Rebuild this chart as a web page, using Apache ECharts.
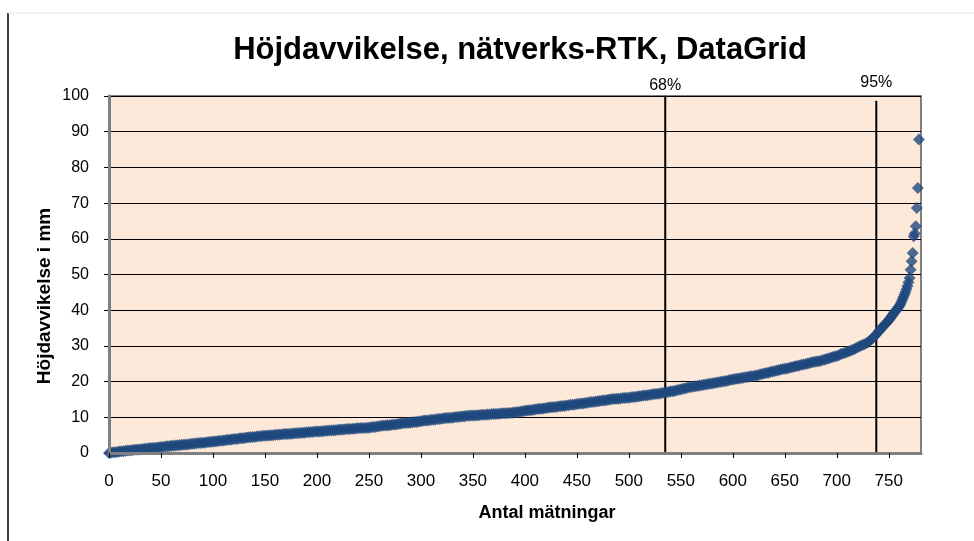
<!DOCTYPE html>
<html lang="sv">
<head>
  <meta charset="utf-8">
  <script src="https://cdn.jsdelivr.net/npm/echarts@6/dist/echarts.min.js"></script>
  <style>
    body { margin: 0; background: #fff; }
    #chart { width: 974px; height: 541px; }
  </style>
</head>
<body>
  <div id="chart"></div>
  <script>
    // mätningsnummer (sorterade efter avvikelse)
    const measNo = [
      0, 2, 4, 6, 8, 10, 12, 14, 16, 18, 20, 22, 24, 26, 28, 30, 32, 34, 36, 38, 40, 42, 44, 46, 48,
      50, 52, 54, 56, 58, 60, 62, 64, 66, 68, 70, 72, 74, 76, 78, 80, 82, 84, 86, 88, 90, 92, 94, 96, 98,
      100, 102, 104, 106, 108, 110, 112, 114, 116, 118, 120, 122, 124, 126, 128, 130, 132, 134, 136, 138, 140, 142, 144, 146, 148,
      150, 152, 154, 156, 158, 160, 162, 164, 166, 168, 170, 172, 174, 176, 178, 180, 182, 184, 186, 188, 190, 192, 194, 196, 198,
      200, 202, 204, 206, 208, 210, 212, 214, 216, 218, 220, 222, 224, 226, 228, 230, 232, 234, 236, 238, 240, 242, 244, 246, 248,
      250, 252, 254, 256, 258, 260, 262, 264, 266, 268, 270, 272, 274, 276, 278, 280, 282, 284, 286, 288, 290, 292, 294, 296, 298,
      300, 302, 304, 306, 308, 310, 312, 314, 316, 318, 320, 322, 324, 326, 328, 330, 332, 334, 336, 338, 340, 342, 344, 346, 348,
      350, 352, 354, 356, 358, 360, 362, 364, 366, 368, 370, 372, 374, 376, 378, 380, 382, 384, 386, 388, 390, 392, 394, 396, 398,
      400, 402, 404, 406, 408, 410, 412, 414, 416, 418, 420, 422, 424, 426, 428, 430, 432, 434, 436, 438, 440, 442, 444, 446, 448,
      450, 452, 454, 456, 458, 460, 462, 464, 466, 468, 470, 472, 474, 476, 478, 480, 482, 484, 486, 488, 490, 492, 494, 496, 498,
      500, 502, 504, 506, 508, 510, 512, 514, 516, 518, 520, 522, 524, 526, 528, 530, 532, 534, 536, 538, 540, 542, 544, 546, 548,
      550, 552, 554, 556, 558, 560, 562, 564, 566, 568, 570, 572, 574, 576, 578, 580, 582, 584, 586, 588, 590, 592, 594, 596, 598,
      600, 602, 604, 606, 608, 610, 612, 614, 616, 618, 620, 622, 624, 626, 628, 630, 632, 634, 636, 638, 640, 642, 644, 646, 648,
      650, 652, 654, 656, 658, 660, 662, 664, 666, 668, 670, 672, 674, 676, 678, 680, 682, 684, 686, 688, 690, 692, 694, 696, 698,
      700, 702, 704, 706, 708, 710, 712, 714, 716, 718, 720, 722, 724, 726, 728, 730, 732, 734, 736, 738, 740,
      741, 742, 743, 744, 745, 746, 747, 748, 749, 750, 751, 752, 753, 754, 755, 756, 757, 758, 759, 760,
      761, 762, 763, 764, 765, 766, 767, 768, 769, 770, 771, 772, 773, 774, 775, 776, 777, 778, 779
    ];
    // höjdavvikelse i mm
    const heightDev = [
      0.0, 0.1, 0.2, 0.2, 0.3, 0.4, 0.5, 0.5, 0.6, 0.7, 0.7, 0.8, 0.9, 0.9, 1.0, 1.0, 1.1, 1.2, 1.2, 1.3, 1.4, 1.4, 1.5, 1.5, 1.6,
      1.7, 1.7, 1.8, 1.9, 1.9, 2.0, 2.0, 2.1, 2.2, 2.2, 2.3, 2.3, 2.4, 2.4, 2.5, 2.6, 2.6, 2.7, 2.8, 2.8, 2.9, 2.9, 3.0, 3.1, 3.1,
      3.2, 3.2, 3.3, 3.4, 3.4, 3.5, 3.6, 3.7, 3.7, 3.8, 3.9, 3.9, 4.0, 4.1, 4.1, 4.2, 4.3, 4.4, 4.4, 4.5, 4.5, 4.6, 4.7, 4.7, 4.8,
      4.8, 4.9, 4.9, 5.0, 5.0, 5.1, 5.1, 5.2, 5.2, 5.3, 5.3, 5.3, 5.4, 5.4, 5.5, 5.5, 5.6, 5.6, 5.7, 5.7, 5.8, 5.8, 5.9, 5.9, 6.0,
      6.0, 6.0, 6.1, 6.1, 6.2, 6.2, 6.3, 6.3, 6.4, 6.4, 6.5, 6.5, 6.6, 6.6, 6.7, 6.7, 6.7, 6.8, 6.8, 6.9, 6.9, 7.0, 7.0, 7.0, 7.1,
      7.1, 7.2, 7.3, 7.3, 7.4, 7.5, 7.6, 7.7, 7.7, 7.8, 7.8, 7.9, 8.0, 8.0, 8.1, 8.2, 8.3, 8.4, 8.4, 8.5, 8.5, 8.6, 8.7, 8.7, 8.8,
      8.9, 9.0, 9.1, 9.1, 9.2, 9.3, 9.3, 9.4, 9.5, 9.5, 9.6, 9.7, 9.8, 9.8, 9.9, 9.9, 10.0, 10.1, 10.1, 10.2, 10.2, 10.3, 10.4, 10.4, 10.5,
      10.5, 10.5, 10.6, 10.6, 10.7, 10.7, 10.7, 10.8, 10.8, 10.9, 10.9, 10.9, 11.0, 11.0, 11.1, 11.1, 11.1, 11.2, 11.2, 11.3, 11.4, 11.4, 11.5, 11.6, 11.7,
      11.8, 11.9, 12.0, 12.0, 12.1, 12.2, 12.3, 12.4, 12.4, 12.5, 12.6, 12.7, 12.8, 12.8, 12.9, 12.9, 13.0, 13.1, 13.2, 13.2, 13.3, 13.4, 13.5, 13.5, 13.6,
      13.7, 13.8, 13.9, 13.9, 14.0, 14.1, 14.2, 14.3, 14.3, 14.4, 14.5, 14.6, 14.7, 14.7, 14.8, 14.9, 15.0, 15.1, 15.1, 15.2, 15.2, 15.3, 15.4, 15.4, 15.5,
      15.5, 15.6, 15.7, 15.7, 15.8, 15.9, 16.0, 16.1, 16.1, 16.2, 16.3, 16.4, 16.5, 16.5, 16.6, 16.7, 16.8, 16.9, 17.0, 17.1, 17.2, 17.3, 17.4, 17.6, 17.7,
      17.8, 18.0, 18.1, 18.3, 18.4, 18.5, 18.6, 18.7, 18.8, 18.9, 19.0, 19.1, 19.2, 19.3, 19.4, 19.5, 19.6, 19.7, 19.8, 19.9, 20.0, 20.1, 20.2, 20.4, 20.5,
      20.6, 20.7, 20.8, 20.9, 21.0, 21.1, 21.2, 21.3, 21.4, 21.5, 21.6, 21.7, 21.8, 22.0, 22.1, 22.3, 22.4, 22.5, 22.7, 22.8, 22.9, 23.1, 23.2, 23.4, 23.5,
      23.6, 23.7, 23.8, 24.0, 24.1, 24.3, 24.4, 24.5, 24.7, 24.8, 24.9, 25.1, 25.2, 25.4, 25.5, 25.6, 25.7, 25.8, 26.0, 26.1, 26.3, 26.5, 26.7, 26.9, 27.0,
      27.2, 27.4, 27.7, 27.9, 28.1, 28.3, 28.5, 28.8, 29.0, 29.3, 29.6, 29.9, 30.2, 30.4, 30.7, 31.0, 31.5, 32.0, 32.6, 33.2, 33.9,
      34.3, 34.6, 35.0, 35.3, 35.6, 35.9, 36.2, 36.5, 36.9, 37.2, 37.6, 38.0, 38.4, 38.8, 39.2, 39.6, 40.0, 40.3, 40.7, 41.1,
      41.6, 42.2, 42.9, 43.6, 44.3, 45.0, 45.9, 46.8, 47.8, 49.0, 51.3, 53.7, 56.0, 60.7, 61.5, 63.5, 68.6, 74.2, 87.8
    ];
    // percentillinjer
    const pctLabels = ['68%', '95%'];
    const pctX = [535, 738];
    const pctTop = [100, 98.6];

    const xTicks = { min: 0, max: 781, interval: 50 };
    const yTicks = { min: 0, max: 100, interval: 10 };

    const FONT = 'Liberation Sans, Arial, sans-serif';
    const chart = echarts.init(document.getElementById('chart'));

    const points = measNo.map((x, i) => [x, heightDev[i]]);

    // en linjeserie per percentil, etiketten sitter på översta punkten
    const pctSeries = pctLabels.map((lbl, i) => ({
      type: 'line',
      data: [
        [pctX[i], 0],
        {
          value: [pctX[i], pctTop[i]],
          label: {
            show: true, position: 'top', distance: i === 0 ? 2 : 10, formatter: lbl,
            fontFamily: FONT, fontSize: 16, color: '#000'
          }
        }
      ],
      symbol: 'circle',
      symbolSize: 1,
      itemStyle: { color: '#000' },
      silent: true,
      z: 3,
      lineStyle: { color: '#000', width: 2 }
    }));

    const frameAxis = {
      axisTick: { show: false }, axisLabel: { show: false }, splitLine: { show: false },
      axisLine: { show: true, lineStyle: { color: '#808080', width: 3 } }, z: 5
    };

    chart.setOption({
      animation: false,
      backgroundColor: '#fff',
      title: {
        text: 'Höjdavvikelse, nätverks-RTK, DataGrid',
        left: 515,
        top: 30,
        textAlign: 'center',
        textStyle: { fontFamily: FONT, fontSize: 31, fontWeight: 'bold', color: '#000' }
      },
      grid: {
        left: 109, right: 53, top: 96, bottom: 88,
        show: true,
        backgroundColor: '#FDE9D9',
        borderColor: '#808080',
        borderWidth: 2
      },
      xAxis: [{
        type: 'value',
        min: xTicks.min, max: xTicks.max, interval: xTicks.interval,
        axisLine: { lineStyle: { color: '#000', width: 2 } },
        axisTick: { length: 5, lineStyle: { color: '#000' } },
        axisLabel: { showMaxLabel: false, margin: 20, fontFamily: FONT, fontSize: 17, color: '#000' },
        splitLine: { show: false },
        z: 5
      }, {
        type: 'value', position: 'top',
        min: xTicks.min, max: xTicks.max,
        ...frameAxis
      }],
      yAxis: [{
        type: 'value',
        min: yTicks.min, max: yTicks.max, interval: yTicks.interval,
        axisLine: { show: true, lineStyle: { color: '#808080', width: 3 } },
        axisTick: { show: true, length: 5, lineStyle: { color: '#000' } },
        axisLabel: { margin: 20, fontFamily: FONT, fontSize: 16, color: '#000' },
        splitLine: { lineStyle: { color: '#000', width: 1 } }
      }, {
        type: 'value', position: 'right',
        min: yTicks.min, max: yTicks.max,
        ...frameAxis
      }],
      graphic: [
        { type: 'line', shape: { x1: 8, y1: 13, x2: 8, y2: 541 }, style: { stroke: '#000', lineWidth: 1.5 } },
        { type: 'line', shape: { x1: 8, y1: 13, x2: 974, y2: 13 }, style: { stroke: '#e6e6e6', lineWidth: 1 } },
        {
          type: 'text', x: 45, y: 296, rotation: Math.PI / 2,
          style: {
            text: 'Höjdavvikelse i mm', fill: '#000', align: 'center', verticalAlign: 'middle',
            font: 'bold 19px Liberation Sans, Arial, sans-serif'
          }
        },
        {
          type: 'text', x: 547, y: 513,
          style: {
            text: 'Antal mätningar', fill: '#000', align: 'center', verticalAlign: 'middle',
            font: 'bold 18px Liberation Sans, Arial, sans-serif'
          }
        }
      ],
      series: [
        ...pctSeries,
        {
          type: 'scatter',
          data: points,
          symbol: 'diamond',
          symbolSize: 12,
          z: 4,
          itemStyle: { color: '#1F497D' }
        }
      ]
    });
  </script>
</body>
</html>
